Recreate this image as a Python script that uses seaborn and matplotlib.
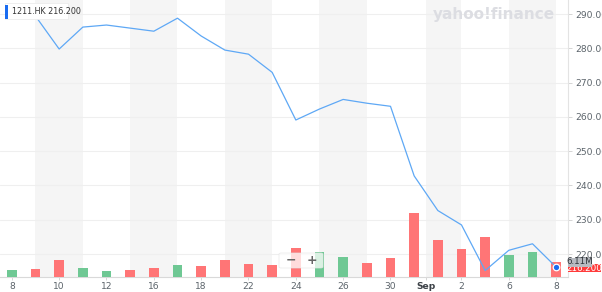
import matplotlib
matplotlib.use("Agg")
import matplotlib.pyplot as plt
from matplotlib.patches import FancyBboxPatch, Rectangle
import seaborn as sns
import pandas as pd
import numpy as np

# ---- data ----
dates = ['Aug 8', 'Aug 9', 'Aug 10', 'Aug 11', 'Aug 12', 'Aug 15', 'Aug 16', 'Aug 17',
         'Aug 18', 'Aug 19', 'Aug 22', 'Aug 23', 'Aug 24', 'Aug 25', 'Aug 26', 'Aug 29',
         'Aug 30', 'Aug 31', 'Sep 1', 'Sep 2', 'Sep 5', 'Sep 6', 'Sep 7', 'Sep 8']
close = [292.3, 289.4, 279.8, 286.2, 286.8, 285.9, 285.0, 288.8, 283.6, 279.5, 278.3, 273.0,
         259.1, 262.3, 265.1, 264.0, 263.1, 242.8, 232.7, 228.5, 215.2, 221.1, 223.0, 216.2]
volume_m = [3.0, 3.3, 7.1, 3.8, 2.4, 3.0, 3.7, 5.0, 4.6, 7.1, 5.6, 5.1,
            12.4, 10.7, 8.4, 6.0, 8.0, 27.3, 15.7, 11.8, 16.8, 9.3, 10.4, 6.11]
direction = ['up', 'down', 'down', 'up', 'up', 'down', 'down', 'up', 'down', 'down', 'down', 'down',
             'down', 'up', 'up', 'down', 'down', 'down', 'down', 'down', 'down', 'up', 'up', 'down']
xtick_pos = [0, 2, 4, 6, 8, 10, 12, 14, 16, 17.5, 19, 21, 23]
xtick_labels = ['8', '10', '12', '16', '18', '22', '24', '26', '30', 'Sep', '2', '6', '8']
price_ticks = [220, 230, 240, 250, 260, 270, 280, 290]
band_spans = [(1, 3), (5, 7), (9, 11), (13, 15), (17.5, 19), (21, 23)]
ticker = '1211.HK'
last_price = '216.200'
last_volume = '6.11M'

df = pd.DataFrame({'idx': np.arange(len(dates)), 'date': dates, 'close': close,
                   'volume': volume_m, 'dir': direction})

sns.set_theme(style='white')
plt.rcParams['font.family'] = ['DejaVu Sans']

fig = plt.figure(figsize=(6.02, 2.92), dpi=100)
rect = [0.0, 0.0524, 0.9435, 0.9476]
ax_bg = fig.add_axes(rect, zorder=0)
ax_vol = fig.add_axes(rect, zorder=1, sharex=ax_bg)
ax_line = fig.add_axes(rect, zorder=2, sharex=ax_bg)
for a in (ax_vol, ax_line):
    a.patch.set_visible(False)

xlim = (-0.5, 23.5)
ylim = (213.4, 294.1)

# background axes: bands, grid, ticks
ax_bg.set_xlim(*xlim)
ax_bg.set_ylim(*ylim)
for a0, a1 in band_spans:
    ax_bg.axvspan(a0, a1, color='#f5f5f5', lw=0, zorder=0)
for v in price_ticks:
    ax_bg.axhline(v, color='#efefef', lw=0.8, zorder=1)
ax_bg.yaxis.tick_right()
ax_bg.set_yticks(price_ticks)
ax_bg.set_yticklabels([f'{v:.3f}' for v in price_ticks])
ax_bg.tick_params(axis='y', right=True, length=3, width=0.6, color='#cfcfcf', pad=2,
                  labelsize=6.6, labelcolor='#5b636a')
ax_bg.set_xticks(xtick_pos)
ax_bg.set_xticklabels(xtick_labels)
ax_bg.tick_params(axis='x', bottom=True, length=2, width=0.6, color='#cfcfcf', pad=2,
                  labelsize=6.6, labelcolor='#5b636a')
for lab in ax_bg.get_xticklabels():
    if lab.get_text() == 'Sep':
        lab.set_fontweight('bold')
        lab.set_color('#3d4248')
for s in ['top', 'left']:
    ax_bg.spines[s].set_visible(False)
ax_bg.spines['bottom'].set_color('#d9d9d9')
ax_bg.spines['bottom'].set_linewidth(0.8)
ax_bg.spines['right'].set_color('#e3e3e3')
ax_bg.spines['right'].set_linewidth(0.8)

# volume bars
sns.barplot(data=df, x='idx', y='volume', hue='dir', native_scale=True,
            palette={'up': '#6fc894', 'down': '#ff7576'}, width=0.42, dodge=False,
            legend=False, ax=ax_vol, saturation=1, linewidth=0)
ax_vol.set_xlim(*xlim)
ax_vol.set_ylim(0, 118.2)
ax_vol.axis('off')

# price line
sns.lineplot(data=df, x='idx', y='close', color='#5ea8f5', lw=0.9, ax=ax_line)
ax_line.set_xlim(*xlim)
ax_line.set_ylim(*ylim)
ax_line.axis('off')

# last point marker
ax_line.scatter([df['idx'].iloc[-1]], [close[-1]], s=22, color='#1a6cf0',
                edgecolor='white', linewidth=0.9, zorder=5)

# watermark
fig.text(494 / 602, 1 - 14 / 292, 'yahoo!finance', fontsize=11, fontweight='bold',
         color='#dcdde2', ha='center', va='center')

# top-left label
fig.patches.append(Rectangle((5 / 602, 1 - 19 / 292), 63 / 602, 16 / 292,
                             transform=fig.transFigure, facecolor='white',
                             edgecolor='#ececec', lw=0.6, zorder=5))
fig.patches.append(Rectangle((5 / 602, 1 - 19 / 292), 3 / 602, 14 / 292,
                             transform=fig.transFigure, facecolor='#1a6cf0',
                             edgecolor='none', zorder=6))
fig.text(12 / 602, 1 - 11.5 / 292, f'{ticker} {last_price}', fontsize=5.8,
         color='#333333', ha='left', va='center', zorder=7)

# zoom control
fig.patches.append(FancyBboxPatch((279 / 602, 1 - 268 / 292), 44 / 602, 15 / 292,
                                  boxstyle='round,pad=0,rounding_size=0.004',
                                  transform=fig.transFigure, facecolor='white', alpha=0.75,
                                  edgecolor='#e6e6e6', lw=0.6, zorder=5))
fig.text(291 / 602, 1 - 260.5 / 292, '\u2212', fontsize=9, fontweight='bold',
         color='#666666', ha='center', va='center', zorder=6)
fig.text(312 / 602, 1 - 260.5 / 292, '+', fontsize=9, fontweight='bold',
         color='#666666', ha='center', va='center', zorder=6)

# right-side value badges
fig.patches.append(Rectangle((568 / 602, 1 - 272 / 292), 33 / 602, 8 / 292,
                             transform=fig.transFigure, facecolor='#ff3b3b',
                             edgecolor='none', zorder=5))
fig.text(584 / 602, 1 - 268.5 / 292, last_price, fontsize=6.3, color='white',
         ha='center', va='center', zorder=6)
fig.patches.append(Rectangle((568 / 602, 1 - 266.5 / 292), 24 / 602, 9 / 292,
                             transform=fig.transFigure, facecolor='#b7bbc1',
                             edgecolor='none', zorder=7))
fig.text(580 / 602, 1 - 262 / 292, last_volume, fontsize=6.3, color='#2f3338',
         ha='center', va='center', zorder=8)

fig.savefig('out.png', dpi=100)
